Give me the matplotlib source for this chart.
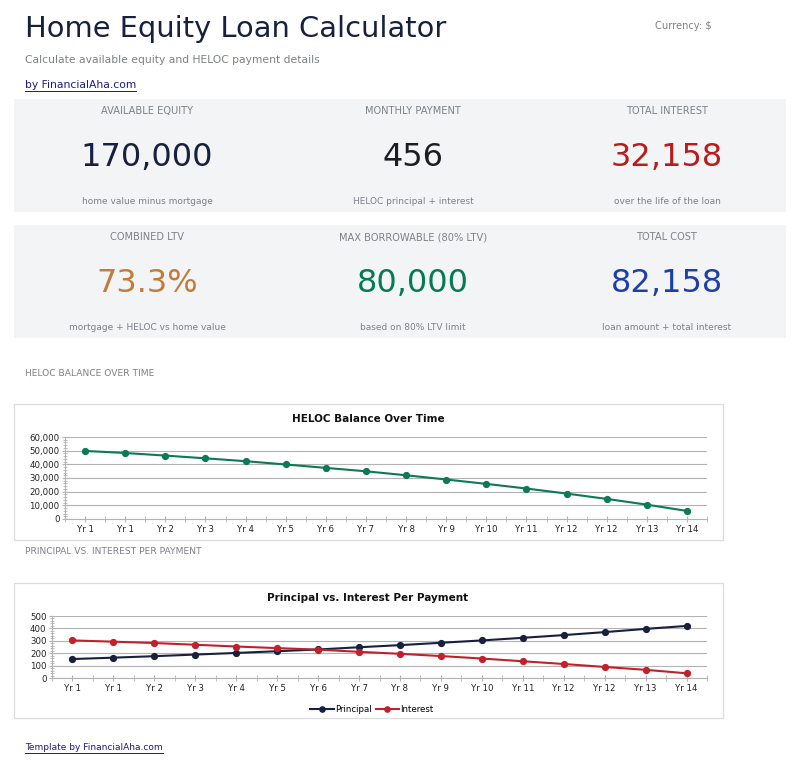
import matplotlib
matplotlib.use("Agg")
import matplotlib.pyplot as plt
from matplotlib.patches import Rectangle
from matplotlib.ticker import AutoMinorLocator, FixedLocator, FuncFormatter
from matplotlib.lines import Line2D

# ---------------- data ----------------
title = "Home Equity Loan Calculator"
subtitle = "Calculate available equity and HELOC payment details"
currency_label = "Currency: $"
byline = "by FinancialAha.com"
footer = "Template by FinancialAha.com"

card_labels = ["AVAILABLE EQUITY", "MONTHLY PAYMENT", "TOTAL INTEREST",
               "COMBINED LTV", "MAX BORROWABLE (80% LTV)", "TOTAL COST"]
card_values = ["170,000", "456", "32,158", "73.3%", "80,000", "82,158"]
card_subs = ["home value minus mortgage", "HELOC principal + interest", "over the life of the loan",
             "mortgage + HELOC vs home value", "based on 80% LTV limit", "loan amount + total interest"]
card_colors = ["#17213f", "#1c1c22", "#b91c1c", "#c27c3a", "#067a55", "#1e3fa8"]

years = ["Yr 1", "Yr 1", "Yr 2", "Yr 3", "Yr 4", "Yr 5", "Yr 6", "Yr 7",
         "Yr 8", "Yr 9", "Yr 10", "Yr 11", "Yr 12", "Yr 12", "Yr 13", "Yr 14"]
balance = [49800, 48300, 46400, 44400, 42300, 39900, 37400, 34900,
           32000, 28900, 25700, 22300, 18600, 14700, 10500, 5900]
principal = [153, 164, 176, 189, 202, 216, 230, 248,
             265, 284, 303, 324, 346, 370, 396, 420]
interest = [303, 293, 282, 268, 254, 241, 229, 211,
            195, 177, 157, 135, 113, 89, 66, 38]

chart1_title = "HELOC Balance Over Time"
chart2_title = "Principal vs. Interest Per Payment"
section1 = "HELOC BALANCE OVER TIME"
section2 = "PRINCIPAL VS. INTEREST PER PAYMENT"

# ---------------- figure ----------------
W, H = 800, 768
fig = plt.figure(figsize=(W / 100, H / 100), dpi=100)
fig.patch.set_facecolor("white")
plt.rcParams["font.family"] = ["DejaVu Sans"]

bg = fig.add_axes([0, 0, 1, 1])
bg.set_xlim(0, W)
bg.set_ylim(H, 0)
bg.axis("off")

GRAY = "#7d8088"
NAVY = "#17213f"
LINK = "#1a1a8c"

bg.text(25, 37, title, fontsize=20.8, color=NAVY, va="baseline", ha="left")
bg.text(25, 60, subtitle, fontsize=7.75, color=GRAY, va="center", ha="left")
bg.text(712, 26, currency_label, fontsize=7.1, color=GRAY, va="center", ha="right")
t_by = bg.text(25, 85, byline, fontsize=7.75, color=LINK, va="center", ha="left")

# cards
rows = [(99, 212), (225, 338)]
col_x = [147, 413, 667]
for r, (top, bot) in enumerate(rows):
    bg.add_patch(Rectangle((14, top), 772, bot - top, facecolor="#f3f4f6", edgecolor="none"))
    for c in range(3):
        i = r * 3 + c
        bg.text(col_x[c], top + 12, card_labels[i], fontsize=7.1, color=GRAY, ha="center", va="center")
        bg.text(col_x[c], top + 58, card_values[i], fontsize=23, color=card_colors[i], ha="center", va="center")
        bg.text(col_x[c], top + 103, card_subs[i], fontsize=6.45, color=GRAY, ha="center", va="center")

bg.text(25, 373, section1, fontsize=6.6, color=GRAY, ha="left", va="center")
bg.text(25, 552, section2, fontsize=6.6, color=GRAY, ha="left", va="center")
t_ft = bg.text(25, 748, footer, fontsize=6.5, color=LINK, ha="left", va="center")

# chart boxes
for top, bot in [(404, 540), (583, 718)]:
    bg.add_patch(Rectangle((14, top), 709, bot - top, facecolor="white", edgecolor="#dcdcdc", lw=0.9))
bg.text(368, 419, chart1_title, fontsize=7.5, fontweight="bold", color="#111111", ha="center", va="center")
bg.text(368, 598, chart2_title, fontsize=7.5, fontweight="bold", color="#111111", ha="center", va="center")


def px_axes(left, right, top, bottom):
    return fig.add_axes([left / W, 1 - bottom / H, (right - left) / W, (bottom - top) / H])


def style_axis(ax, ymax, step, fmt):
    n = len(years)
    ax.set_xlim(-0.5, n - 0.5)
    ax.set_ylim(0, ymax)
    ax.set_facecolor("none")
    for s in ["top", "right"]:
        ax.spines[s].set_visible(False)
    ax.spines["left"].set_color("#b3b3b3")
    ax.spines["bottom"].set_color("#b3b3b3")
    ax.spines["left"].set_linewidth(0.8)
    ax.spines["bottom"].set_linewidth(0.8)
    ax.set_yticks(range(0, ymax + 1, step))
    ax.yaxis.set_major_formatter(FuncFormatter(fmt))
    ax.yaxis.set_minor_locator(AutoMinorLocator(5))
    ax.grid(axis="y", which="major", color="#b3b3b3", lw=0.8)
    ax.set_axisbelow(True)
    ax.set_xticks(range(n))
    ax.set_xticklabels(years)
    ax.xaxis.set_minor_locator(FixedLocator([i - 0.5 for i in range(n + 1)]))
    ax.tick_params(axis="x", which="both", length=5, direction="inout", color="#b3b3b3",
                   labelsize=6.2, pad=2, labelcolor="#222222")
    ax.tick_params(axis="y", which="major", length=5, direction="inout", color="#b3b3b3",
                   labelsize=6.2, pad=1.5, labelcolor="#222222")
    ax.tick_params(axis="y", which="minor", length=3, direction="inout", color="#b3b3b3")


x = list(range(len(years)))

ax1 = px_axes(65, 707, 437, 519)
style_axis(ax1, 60000, 10000, lambda v, p: f"{int(v):,}")
ax1.plot(x, balance, color="#0b7a55", lw=1.5, marker="o", ms=4.2, clip_on=False)

ax2 = px_axes(52, 707, 616, 678)
style_axis(ax2, 500, 100, lambda v, p: f"{int(v)}")
ax2.plot(x, principal, color="#17213f", lw=1.5, marker="o", ms=4.2, clip_on=False, label="Principal")
ax2.plot(x, interest, color="#c0212a", lw=1.5, marker="o", ms=4.2, clip_on=False, label="Interest")
leg = fig.legend(handles=ax2.get_lines(), labels=["Principal", "Interest"], loc="center",
                 bbox_to_anchor=(372 / W, 1 - 710 / H), ncol=2, frameon=False, fontsize=6.2,
                 handlelength=2.7, handletextpad=0.15, columnspacing=0.5, markerscale=0.9)

# underline links
fig.canvas.draw()
r = fig.canvas.get_renderer()
for t in [t_by, t_ft]:
    bb = t.get_window_extent(r)
    y = H - bb.y0 + 0.5
    bg.add_line(Line2D([bb.x0, bb.x1], [y, y], color=LINK, lw=0.7))

fig.savefig("out.png", dpi=100, facecolor="white")
